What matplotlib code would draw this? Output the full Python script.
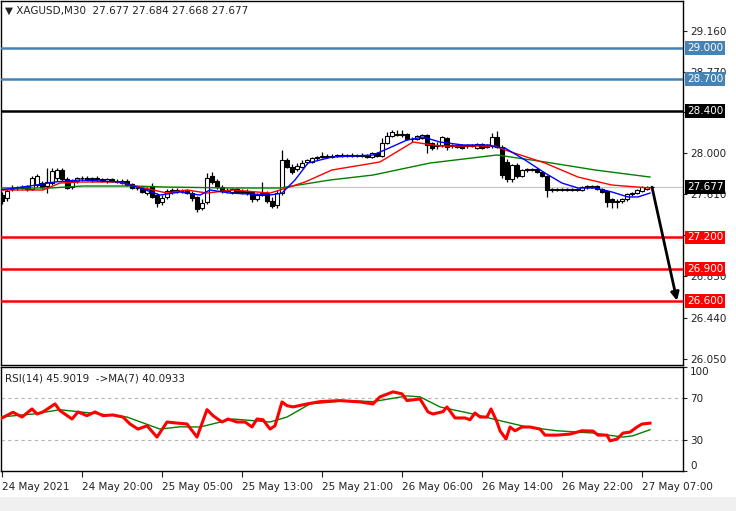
import matplotlib
matplotlib.use('Agg')
import matplotlib.pyplot as plt
import matplotlib.transforms as mtransforms
from matplotlib.patches import Rectangle
import numpy as np

# XAGUSD M30 candles
opens = [27.60, 27.57, 27.66, 27.67, 27.67, 27.69, 27.66, 27.70, 27.72, 27.69,
         27.72, 27.76, 27.84, 27.75, 27.68, 27.74, 27.76, 27.76, 27.75, 27.76,
         27.75, 27.74, 27.75, 27.74, 27.72, 27.74, 27.71, 27.67, 27.67, 27.62,
         27.69, 27.60, 27.54, 27.58, 27.64, 27.65, 27.64, 27.64, 27.62, 27.58,
         27.48, 27.54, 27.78, 27.74, 27.68, 27.64, 27.63, 27.66, 27.63, 27.64,
         27.63, 27.56, 27.60, 27.62, 27.55, 27.51, 27.62, 27.93, 27.87, 27.85,
         27.87, 27.92, 27.92, 27.95, 27.96, 27.97, 27.96, 27.97, 27.98, 27.97,
         27.98, 27.97, 27.98, 27.97, 27.96, 28.00, 27.97, 28.10, 28.16, 28.18,
         28.17, 28.18, 28.13, 28.13, 28.14, 28.17, 28.10, 28.07, 28.08, 28.14,
         28.07, 28.08, 28.08, 28.07, 28.08, 28.05, 28.09, 28.06, 28.07, 28.15,
         28.06, 27.92, 27.75, 27.89, 27.78, 27.84, 27.85, 27.85, 27.82, 27.78,
         27.65, 27.66, 27.65, 27.66, 27.65, 27.66, 27.65, 27.68, 27.69, 27.69,
         27.66, 27.64, 27.56, 27.54, 27.55, 27.56, 27.61, 27.62, 27.64, 27.66,
         27.677]
highs = [27.63, 27.66, 27.70, 27.69, 27.70, 27.70, 27.78, 27.80, 27.74, 27.86,
         27.86, 27.86, 27.86, 27.77, 27.75, 27.77, 27.78, 27.78, 27.77, 27.78,
         27.76, 27.76, 27.76, 27.75, 27.75, 27.75, 27.72, 27.69, 27.68, 27.68,
         27.72, 27.62, 27.60, 27.66, 27.67, 27.67, 27.66, 27.66, 27.64, 27.59,
         27.56, 27.81, 27.82, 27.75, 27.70, 27.67, 27.67, 27.67, 27.66, 27.66,
         27.64, 27.62, 27.73, 27.64, 27.58, 27.65, 28.03, 27.95, 27.90, 27.91,
         27.93, 27.94, 27.96, 27.97, 28.01, 27.99, 27.99, 27.99, 28.00, 27.99,
         28.00, 27.99, 28.00, 27.99, 28.01, 28.01, 28.14, 28.20, 28.22, 28.22,
         28.22, 28.19, 28.15, 28.17, 28.18, 28.18, 28.11, 28.11, 28.16, 28.15,
         28.09, 28.09, 28.09, 28.09, 28.09, 28.10, 28.10, 28.09, 28.19, 28.21,
         28.08, 27.94, 27.90, 27.91, 27.85, 27.86, 27.86, 27.86, 27.83, 27.79,
         27.67, 27.67, 27.67, 27.67, 27.67, 27.67, 27.69, 27.70, 27.70, 27.70,
         27.67, 27.65, 27.57, 27.56, 27.57, 27.62, 27.63, 27.66, 27.69, 27.69,
         27.684]
lows = [27.52, 27.55, 27.64, 27.65, 27.66, 27.64, 27.65, 27.68, 27.66, 27.62,
        27.70, 27.74, 27.74, 27.66, 27.66, 27.72, 27.74, 27.74, 27.73, 27.74,
        27.73, 27.72, 27.73, 27.72, 27.71, 27.69, 27.66, 27.65, 27.62, 27.60,
        27.57, 27.49, 27.51, 27.56, 27.61, 27.62, 27.62, 27.61, 27.55, 27.44,
        27.46, 27.52, 27.71, 27.66, 27.62, 27.62, 27.61, 27.62, 27.61, 27.60,
        27.54, 27.55, 27.59, 27.53, 27.48, 27.48, 27.60, 27.86, 27.80, 27.83,
        27.86, 27.90, 27.91, 27.93, 27.95, 27.95, 27.95, 27.96, 27.96, 27.96,
        27.96, 27.96, 27.96, 27.95, 27.95, 27.96, 27.96, 28.09, 28.15, 28.16,
        28.15, 28.12, 28.11, 28.12, 28.13, 28.00, 28.03, 28.04, 28.06, 28.03,
        28.05, 28.05, 28.04, 28.05, 28.06, 28.04, 28.04, 28.05, 28.05, 28.05,
        27.76, 27.73, 27.73, 27.76, 27.77, 27.82, 27.83, 27.81, 27.77, 27.58,
        27.63, 27.64, 27.64, 27.64, 27.64, 27.64, 27.64, 27.66, 27.67, 27.65,
        27.62, 27.49, 27.48, 27.48, 27.53, 27.55, 27.59, 27.61, 27.63, 27.65,
        27.668]
closes = [27.55, 27.64, 27.67, 27.67, 27.68, 27.66, 27.76, 27.78, 27.68, 27.73,
          27.83, 27.84, 27.75, 27.67, 27.74, 27.76, 27.76, 27.75, 27.76, 27.75,
          27.74, 27.75, 27.74, 27.73, 27.74, 27.70, 27.67, 27.67, 27.63, 27.66,
          27.58, 27.53, 27.57, 27.64, 27.65, 27.64, 27.64, 27.62, 27.57, 27.47,
          27.53, 27.76, 27.73, 27.68, 27.64, 27.65, 27.66, 27.63, 27.64, 27.62,
          27.56, 27.60, 27.62, 27.55, 27.50, 27.62, 27.93, 27.87, 27.82, 27.88,
          27.91, 27.93, 27.95, 27.96, 27.97, 27.96, 27.97, 27.98, 27.97, 27.98,
          27.97, 27.98, 27.97, 27.96, 28.00, 27.97, 28.10, 28.16, 28.20, 28.17,
          28.18, 28.13, 28.13, 28.16, 28.17, 28.08, 28.05, 28.08, 28.15, 28.06,
          28.08, 28.06, 28.05, 28.08, 28.07, 28.09, 28.05, 28.07, 28.15, 28.06,
          27.79, 27.75, 27.89, 27.78, 27.84, 27.85, 27.84, 27.82, 27.78, 27.65,
          27.66, 27.65, 27.66, 27.65, 27.66, 27.65, 27.68, 27.69, 27.68, 27.66,
          27.63, 27.54, 27.54, 27.55, 27.56, 27.61, 27.62, 27.65, 27.68, 27.68,
          27.677]

# moving averages on price (bar position, price)
ma_fast_x = [-0.4, 5.6, 10.6, 15.6, 23.6, 27.6, 31.6, 35.6, 39.6, 41.6, 45.6, 53.6, 56.0,
             58.6, 61.2, 66.0, 74.2, 75.6, 81.0, 84.2, 87.6, 92.2, 97.6, 98.6, 100.6,
             104.6, 108.6, 112.0, 115.2, 118.6, 122.0, 125.2, 127.2, 129.6]
ma_fast_y = [27.650, 27.688, 27.726, 27.745, 27.726, 27.669, 27.602, 27.631, 27.602,
             27.650, 27.621, 27.602, 27.621, 27.745, 27.906, 27.963, 27.982, 28.010,
             28.124, 28.153, 28.105, 28.077, 28.077, 28.058, 28.048, 27.935, 27.811,
             27.716, 27.669, 27.669, 27.631, 27.584, 27.584, 27.621]
ma_mid_x = [-0.4, 8.2, 11.6, 15.6, 23.0, 27.6, 33.0, 37.0, 41.0, 46.2, 53.6, 55.6,
            60.6, 66.0, 75.6, 82.2, 87.6, 98.6, 100.6, 108.6, 115.2, 122.0, 129.6]
ma_mid_y = [27.650, 27.650, 27.716, 27.726, 27.726, 27.678, 27.621, 27.650, 27.621,
            27.650, 27.621, 27.650, 27.726, 27.840, 27.916, 28.105, 28.067, 28.067,
            28.030, 27.906, 27.773, 27.697, 27.669]
ma_slow_x = [-0.4, 9.6, 16.2, 26.2, 33.0, 46.2, 55.6, 65.6, 74.2, 85.6, 99.0, 108.6,
             118.6, 129.6]
ma_slow_y = [27.669, 27.669, 27.688, 27.688, 27.678, 27.669, 27.669, 27.745, 27.792,
             27.906, 27.982, 27.916, 27.840, 27.773]

# RSI(14) and its MA(7)
rsi_x = [-0.4, 2.2, 4.0, 6.0, 7.0, 8.2, 10.6, 11.6, 14.0, 15.2, 17.0, 18.6, 20.2, 22.2,
         24.2, 25.6, 27.2, 29.0, 31.0, 33.0, 35.0, 37.0, 39.0, 41.0, 42.2, 44.0, 45.2,
         47.0, 48.6, 50.0, 51.0, 52.2, 53.6, 54.6, 56.0, 57.0, 58.2, 61.0, 63.6, 67.6,
         71.6, 74.2, 75.6, 78.2, 80.0, 81.0, 83.6, 85.2, 86.2, 88.2, 89.0, 90.6, 92.6,
         93.6, 94.6, 95.6, 97.0, 97.8, 99.0, 99.6, 100.8, 101.6, 102.6, 104.0, 105.6,
         107.6, 108.6, 111.0, 113.6, 116.0, 118.2, 119.2, 121.0, 121.6, 123.0, 124.2,
         125.6, 127.0, 128.0, 129.6]
rsi_y = [50.0, 56.5, 51.9, 59.7, 54.8, 56.8, 64.5, 58.0, 50.0, 56.8, 53.2, 56.8, 53.2,
         53.9, 51.9, 45.2, 40.3, 43.5, 32.6, 47.1, 46.1, 45.2, 32.6, 59.0, 53.2, 47.1,
         50.0, 47.1, 47.1, 42.3, 50.0, 49.3, 40.3, 43.5, 66.4, 62.8, 61.6, 64.5, 66.7,
         67.7, 66.4, 64.5, 71.3, 76.1, 74.2, 67.7, 69.3, 56.8, 54.8, 57.1, 61.6, 51.0,
         51.0, 49.3, 55.8, 51.9, 51.9, 59.7, 47.1, 38.7, 30.7, 42.3, 38.7, 42.3, 42.3,
         40.3, 34.5, 34.5, 35.5, 38.7, 38.4, 34.5, 34.5, 29.0, 30.7, 36.5, 37.4, 42.3,
         45.2, 46.0]
rsi_ma_x = [-0.4, 6.2, 11.6, 19.6, 25.0, 31.6, 35.6, 39.6, 46.2, 53.6, 57.0, 61.6, 69.0,
            74.2, 81.0, 83.6, 87.6, 94.2, 99.6, 105.0, 111.0, 118.2, 124.2, 126.2, 129.6]
rsi_ma_y = [51.9, 54.8, 58.9, 54.8, 51.9, 40.3, 42.5, 42.3, 50.0, 47.1, 51.9, 64.5,
            67.7, 66.7, 72.2, 71.3, 61.6, 54.8, 48.4, 42.3, 38.7, 36.5, 32.6, 33.9, 39.7]

blue_levels = [29.0, 28.7]
black_level = 28.4
red_levels = [27.2, 26.9, 26.6]
last_price = 27.677
arrow_from = (130, 27.677)
arrow_to = (135.0, 26.60)

price_ticks = [26.05, 26.44, 26.83, 27.22, 27.61, 28.00, 28.39, 28.77, 29.16]
hidden_ticks = [27.22, 28.39]   # fully covered by level tags in the chart
time_ticks = [0, 16, 32, 48, 64, 80, 96, 112, 128]
time_labels = ['24 May 2021', '24 May 20:00', '25 May 05:00', '25 May 13:00',
               '25 May 21:00', '26 May 06:00', '26 May 14:00', '26 May 22:00',
               '27 May 07:00']

plt.rcParams['font.family'] = ['DejaVu Sans']
FS = 7.5

fig = plt.figure(figsize=(7.36, 5.11), dpi=100)
fig.patch.set_facecolor('white')
ax = fig.add_axes([1 / 736, 146 / 511, 682 / 736, 364 / 511])
ax2 = fig.add_axes([1 / 736, 40 / 511, 682 / 736, 104 / 511])
fig.patches.append(Rectangle((0, 0), 1, 14 / 511, transform=fig.transFigure,
                             facecolor='#f0f0f0', edgecolor='none', zorder=0))

# ---- price panel ----
o = np.array(opens); h = np.array(highs); l = np.array(lows); c = np.array(closes)
x = np.arange(len(c))
up = c >= o
ax.axhline(last_price, color='#c8c8c8', lw=0.9, zorder=1)
ax.vlines(x, l, h, color='black', lw=0.9, zorder=2)
bot = np.minimum(o, c)
hgt = np.abs(c - o)
ax.bar(x[up], hgt[up], bottom=bot[up], width=0.64, facecolor='white',
       edgecolor='black', lw=0.8, zorder=3)
ax.bar(x[~up], hgt[~up], bottom=bot[~up], width=0.64, facecolor='black',
       edgecolor='black', lw=0.8, zorder=3)

ax.plot(ma_slow_x, ma_slow_y, color='#008000', lw=1, zorder=4)
ax.plot(ma_mid_x, ma_mid_y, color='#ff0000', lw=1, zorder=4)
ax.plot(ma_fast_x, ma_fast_y, color='#0000ff', lw=1, zorder=4)

for lv in blue_levels:
    ax.axhline(lv, color='#4682b4', lw=1.8, zorder=5)
ax.axhline(black_level, color='black', lw=1.8, zorder=5)
for lv in red_levels:
    ax.axhline(lv, color='#ff0000', lw=1.8, zorder=5)

ax.annotate('', xy=arrow_to, xytext=arrow_from, annotation_clip=False,
            arrowprops=dict(arrowstyle='-|>', color='black', lw=2,
                            mutation_scale=12, shrinkA=0, shrinkB=0), zorder=6)

ax.set_xlim(-0.2, 136.2)
ax.set_ylim(25.99, 29.443)
ax.yaxis.tick_right()
ax.set_yticks(price_ticks)
ax.set_yticklabels(['' if v in hidden_ticks else '%.3f' % v for v in price_ticks])
ax.tick_params(axis='y', direction='out', length=3, width=0.8, labelsize=FS,
               pad=2, colors='#222222')
ax.set_xticks([])
for s in ax.spines.values():
    s.set_color('black')
    s.set_linewidth(1)

trans = mtransforms.blended_transform_factory(ax.transAxes, ax.transData)
tags = [(v, '#4682b4') for v in blue_levels] + [(black_level, 'black'),
                                                (last_price, 'black')]
tags += [(v, '#ff0000') for v in red_levels]
for v, col in tags:
    ax.text(1.0 + 4 / 682, v, '%.3f' % v, transform=trans, ha='left', va='center',
            fontsize=FS, color='white', clip_on=False, zorder=10,
            bbox=dict(boxstyle='square,pad=0.18', facecolor=col, edgecolor='none'))

ax.text(0.006, 0.988, '\u25bc XAGUSD,M30  27.677 27.684 27.668 27.677',
        transform=ax.transAxes, ha='left', va='top', fontsize=FS, color='#222222')

# ---- RSI panel ----
ax2.axhline(70, color='#b4b4b4', lw=0.8, ls=(0, (3, 3)))
ax2.axhline(30, color='#b4b4b4', lw=0.8, ls=(0, (3, 3)))
ax2.plot(rsi_ma_x, rsi_ma_y, color='#008000', lw=1, zorder=3)
ax2.plot(rsi_x, rsi_y, color='#ff0000', lw=2.2, zorder=4)
ax2.set_xlim(-0.2, 136.2)
ax2.set_ylim(0, 100)
ax2.yaxis.tick_right()
ax2.set_yticks([0, 30, 70, 100])
ax2.set_yticklabels(['0', '30', '70', '100'])
ax2.tick_params(axis='y', direction='out', length=3, width=0.8, labelsize=FS,
                pad=2, colors='#222222')
ylab = ax2.get_yticklabels()
ylab[0].set_va('bottom')
ylab[-1].set_va('top')
ax2.set_xticks(time_ticks)
ax2.set_xticklabels(time_labels, ha='left')
ax2.tick_params(axis='x', direction='out', length=4, width=0.8, labelsize=FS,
                pad=4, colors='#222222')
for s in ax2.spines.values():
    s.set_color('black')
    s.set_linewidth(1)
ax2.text(0.006, 0.89, 'RSI(14) 45.9019  ->MA(7) 40.0933', transform=ax2.transAxes,
         ha='left', va='center', fontsize=FS, color='#222222')

fig.savefig('out.png', dpi=100)
